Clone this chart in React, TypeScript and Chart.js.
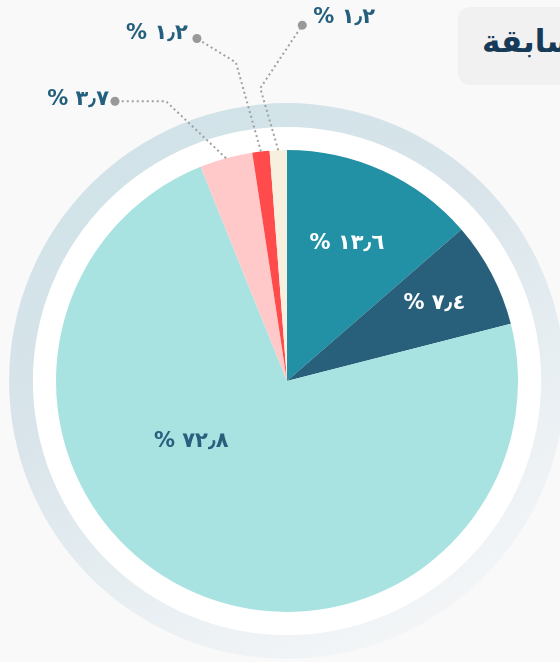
import React, { useEffect, useRef } from 'react';
import { Chart, registerables } from 'chart.js';

Chart.register(...registerables);

// ---- data ----
const categories = ['الفئة ١', 'الفئة ٢', 'الفئة ٣', 'الفئة ٤', 'الفئة ٥', 'الفئة ٦'];
const values = [13.6, 7.4, 72.8, 3.7, 1.2, 1.2];
const sliceColors = ['#2290a5', '#28607b', '#a9e3e1', '#ffc9c9', '#ff4b4b', '#f8f0de'];
const headerText = 'السابقة';

// ---- label placement (annotation layout, not data) ----
const insideLabels = [
  { index: 0, angleFrac: 0.48, radiusFrac: 0.65, color: '#ffffff' },
  { index: 1, angleFrac: 0.5, radiusFrac: 0.72, color: '#ffffff' },
  { index: 2, angleFrac: 0.618, radiusFrac: 0.49, color: '#285f7c' },
];
const outsideLabels = [
  { index: 3, elbow: [-60, -57], dot: [-51, 0], side: 'left', gap: 6, dy: -2 },
  { index: 4, elbow: [-25, -89], dot: [-39, -24], side: 'left', gap: 9, dy: -5 },
  { index: 5, elbow: [-18, -62], dot: [42, -63], side: 'right', gap: 11, dy: -8 },
];

const FONT = '"DejaVu Sans", "Noto Sans", sans-serif';

function arabicPercent(v: number): string {
  const digits = '٠١٢٣٤٥٦٧٨٩';
  const s = v.toFixed(1).replace(/\d/g, (d) => digits[+d]).replace('.', '٫');
  return '% ' + s;
}

const ringPlugin = {
  id: 'ringBg',
  beforeDatasetsDraw(chart: any) {
    const { ctx, chartArea } = chart;
    const cx = (chartArea.left + chartArea.right) / 2;
    const cy = (chartArea.top + chartArea.bottom) / 2;
    const r = Math.min(chartArea.right - chartArea.left, chartArea.bottom - chartArea.top) / 2;
    const outer = r * 1.203;
    const white = r * 1.1;
    ctx.save();
    const g = ctx.createLinearGradient(cx - outer * 0.5, cy - outer, cx + outer * 0.6, cy + outer);
    g.addColorStop(0, '#d0e3e8');
    g.addColorStop(0.35, '#d8e4ea');
    g.addColorStop(0.65, '#e7eef2');
    g.addColorStop(1, '#f6f7f8');
    ctx.beginPath();
    ctx.arc(cx, cy, outer, 0, Math.PI * 2);
    ctx.fillStyle = g;
    ctx.fill();
    ctx.beginPath();
    ctx.arc(cx, cy, white, 0, Math.PI * 2);
    ctx.fillStyle = '#ffffff';
    ctx.fill();
    ctx.restore();
  },
};

const labelPlugin = {
  id: 'sliceLabels',
  afterDatasetsDraw(chart: any) {
    const { ctx } = chart;
    const meta = chart.getDatasetMeta(0);
    ctx.save();
    ctx.font = `bold 21px ${FONT}`;
    ctx.direction = 'ltr';
    ctx.textBaseline = 'middle';
    ctx.textAlign = 'center';
    insideLabels.forEach((l) => {
      const arc = meta.data[l.index];
      const a = arc.startAngle + (arc.endAngle - arc.startAngle) * l.angleFrac;
      const rr = arc.outerRadius * l.radiusFrac;
      ctx.fillStyle = l.color;
      ctx.fillText(arabicPercent(values[l.index]), arc.x + rr * Math.cos(a), arc.y + rr * Math.sin(a));
    });
    outsideLabels.forEach((l) => {
      const arc = meta.data[l.index];
      const a = (arc.startAngle + arc.endAngle) / 2;
      const sx = arc.x + arc.outerRadius * Math.cos(a);
      const sy = arc.y + arc.outerRadius * Math.sin(a);
      const ex = sx + l.elbow[0];
      const ey = sy + l.elbow[1];
      const dx = ex + l.dot[0];
      const dy = ey + l.dot[1];
      ctx.beginPath();
      ctx.setLineDash([2, 3]);
      ctx.lineWidth = 2;
      ctx.strokeStyle = '#a0a0a0';
      ctx.moveTo(sx, sy);
      ctx.lineTo(ex, ey);
      ctx.lineTo(dx, dy);
      ctx.stroke();
      ctx.setLineDash([]);
      ctx.beginPath();
      ctx.arc(dx, dy, 4.5, 0, Math.PI * 2);
      ctx.fillStyle = '#999999';
      ctx.fill();
      ctx.fillStyle = '#24607e';
      if (l.side === 'left') {
        ctx.textAlign = 'right';
        ctx.fillText(arabicPercent(values[l.index]), dx - l.gap, dy + l.dy);
      } else {
        ctx.textAlign = 'left';
        ctx.fillText(arabicPercent(values[l.index]), dx + l.gap, dy + l.dy);
      }
    });
    ctx.restore();
  },
};

export default function App() {
  const canvasRef = useRef<HTMLCanvasElement | null>(null);

  useEffect(() => {
    if (!canvasRef.current) return;
    const chart = new Chart(canvasRef.current, {
      type: 'pie',
      data: {
        labels: categories,
        datasets: [
          {
            data: values,
            backgroundColor: sliceColors,
            borderWidth: 0,
          },
        ],
      },
      options: {
        responsive: false,
        animation: false,
        layout: { padding: { left: 56, right: 42, top: 150, bottom: 50 } },
        plugins: {
          legend: { display: false },
          tooltip: { enabled: false },
        },
      },
      plugins: [ringPlugin, labelPlugin],
    });
    return () => chart.destroy();
  }, []);

  return (
    <div
      style={{
        position: 'absolute',
        left: 0,
        top: 0,
        width: 560,
        height: 662,
        overflow: 'hidden',
        background: '#f9f9f9',
      }}
    >
      <canvas ref={canvasRef} width={560} height={662} style={{ position: 'absolute', left: 0, top: 0 }} />
      <div
        style={{
          position: 'absolute',
          left: 458,
          top: 7,
          width: 220,
          height: 78,
          borderRadius: 12,
          background: '#f1f1f1',
        }}
      >
        <span
          style={{
            position: 'absolute',
            left: 24,
            top: 13,
            direction: 'rtl',
            whiteSpace: 'nowrap',
            fontFamily: FONT,
            fontWeight: 'bold',
            fontSize: 31,
            color: '#163a58',
            lineHeight: '42px',
          }}
        >
          {headerText}
        </span>
      </div>
    </div>
  );
}
